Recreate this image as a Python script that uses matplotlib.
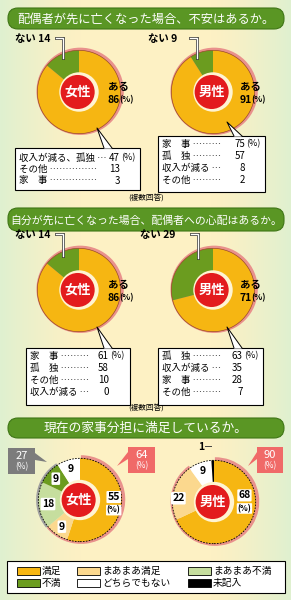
import numpy as np
import matplotlib
matplotlib.use('Agg')
import matplotlib.pyplot as plt
from matplotlib.patches import Wedge, Circle, FancyBboxPatch, Rectangle, Polygon
import matplotlib.patheffects as pe

plt.rcParams['font.family'] = ['Noto Sans CJK JP', 'DejaVu Sans']

# ---- data ----
q1_title = '配偶者が先に亡くなった場合、不安はあるか。'
q2_title = '自分が先に亡くなった場合、配偶者への心配はあるか。'
q3_title = '現在の家事分担に満足しているか。'

yesno_labels = ['ある', 'ない']
q1_female = [86, 14]
q1_male = [91, 9]
q2_female = [86, 14]
q2_male = [71, 29]

q1_female_reasons = ['収入が減る、孤独 …', 'その他 ……………', '家　事 ……………']
q1_female_vals = [47, 13, 3]
q1_male_reasons = ['家　事 ………', '孤　独 ………', '収入が減る …', 'その他 ………']
q1_male_vals = [75, 57, 8, 2]
q2_female_reasons = ['家　事 ………', '孤　独 ………', 'その他 ………', '収入が減る …']
q2_female_vals = [61, 58, 10, 0]
q2_male_reasons = ['孤　独 ………', '収入が減る …', '家　事 ………', 'その他 ………']
q2_male_vals = [63, 35, 28, 7]

q3_categories = ['満足', 'まあまあ満足', 'まあまあ不満', '不満', 'どちらでもない', '未記入']
q3_female = [55, 9, 18, 9, 9, 0]
q3_male = [68, 22, 0, 0, 9, 1]

ORANGE = '#f6b612'
GREEN = '#6b9c1f'
q3_colors = [ORANGE, '#fbd88e', '#c6de9e', GREEN, 'white', 'black']
RED = '#e31b1d'
PINK = '#e9918c'
W, H = 291, 600

fig = plt.figure(figsize=(W / 100, H / 100), dpi=100)


def pixel_axes(z):
    a = fig.add_axes([0, 0, 1, 1], zorder=z)
    a.set_xlim(0, W)
    a.set_ylim(H, 0)
    a.axis('off')
    a.patch.set_alpha(0)
    return a


bg_ax = pixel_axes(0)

# background: cream centre fading to pale green at the sides
yy, xx = np.mgrid[0:H, 0:W]
d = np.abs(xx - 145.5) / 145.5
w = np.clip((d - 0.45) / 0.55, 0, 1) ** 1.3
cream = np.array([253, 241, 196]) / 255
green_bg = np.array([223, 240, 208]) / 255
bg = cream * (1 - w[..., None]) + green_bg * w[..., None]
bg_ax.imshow(bg, extent=(0, W, H, 0), zorder=0, aspect='auto')

ax = pixel_axes(10)  # overlay for texts, boxes and callouts


def banner(y0, y1, text, size):
    bg_ax.add_patch(FancyBboxPatch((8, y0), 276, y1 - y0,
                                   boxstyle='round,pad=0,rounding_size=10',
                                   fc='#5a9624', ec='#3f7616', lw=0.8, zorder=2))
    bg_ax.text(146, (y0 + y1) / 2 + 0.5, text, color='white', fontsize=size,
               ha='center', va='center', zorder=3)


def donut_axes(cx, cy, size=112):
    a = fig.add_axes([(cx - size / 2) / W, 1 - (cy + size / 2) / H, size / W, size / H], zorder=5)
    a.set_xlim(-1.12, 1.12)
    a.set_ylim(-1.12, 1.12)
    a.set_aspect('equal')
    a.axis('off')
    return a


def center_label(a, name, hole=0.44):
    a.add_patch(Circle((0, 0), hole, fc='#fff4d2', ec='none', zorder=5))
    a.add_patch(Circle((-0.03, 0), 0.38, fc=RED, ec='none', zorder=6))
    a.text(-0.03, 0.0, name, color='white', fontsize=9.5, fontweight='bold',
           ha='center', va='center', zorder=7)


def yesno_pie(cx, cy, vals, name):
    a = donut_axes(cx, cy)
    a.add_patch(Circle((0.025, 0.015), 0.975, fc=PINK, ec='none', zorder=0))
    a.pie(vals, colors=[ORANGE, GREEN], startangle=90, counterclock=False,
          radius=0.93, wedgeprops=dict(width=0.55, lw=0))
    a.add_patch(Circle((0, 0), 0.93, fill=False, ec='#9a4a2a', lw=0.5, zorder=4))
    center_label(a, name)
    return a


def no_label(x, y, val, lx, ly):
    ax.text(x, y, f'ない {val}', fontsize=7.5, fontweight='bold', ha='left',
            va='center', zorder=5)
    ax.plot([lx - 7, lx, lx], [y - 1, y - 1, ly], color='white', lw=1,
            zorder=9, solid_joinstyle='miter',
            path_effects=[pe.Stroke(linewidth=2, foreground='#333333'), pe.Normal()])


def yes_label(x, y, val):
    ax.text(x, y, 'ある', fontsize=7.5, fontweight='bold', ha='left', va='center', zorder=5)
    ax.text(x, y + 13, f'{val}', fontsize=7.5, fontweight='bold', ha='left', va='center', zorder=5)
    ax.text(x + 11, y + 13, '(%)', fontsize=6, fontweight='bold', ha='left', va='center', zorder=5)


def reason_box(x0, y0, x1, y1, tip, labels, vals, vx, row0, step=12):
    ax.add_patch(Rectangle((x0, y0), x1 - x0, y1 - y0, fc='white', ec='black', lw=0.8, zorder=4))
    tx, ty = tip
    ax.add_patch(Polygon([(tx + 7, y0 + 0.6), (tx, ty), (tx + 15, y0 + 0.6)], closed=True,
                         fc='white', ec='none', zorder=5))
    ax.plot([tx + 7, tx, tx + 15], [y0, ty, y0], color='black', lw=0.7, zorder=5)
    for i, (lab, v) in enumerate(zip(labels, vals)):
        yy_ = row0 + i * step
        ax.text(x0 + 4, yy_, lab, fontsize=6.8, ha='left', va='center', zorder=6)
        ax.text(vx, yy_, f'{v}', fontsize=7, ha='right', va='center', zorder=6)
        if i == 0:
            ax.text(vx + 1, yy_, '(%)', fontsize=6.5, ha='left', va='center', zorder=6)


# ---- section 1 ----
banner(8, 29, q1_title, 8.8)
yesno_pie(79, 92, q1_female, '女性')
yesno_pie(213, 92, q1_male, '男性')
no_label(15, 39, q1_female[1], 63, 58)
no_label(148, 39, q1_male[1], 197, 58)
yes_label(108, 87, q1_female[0])
yes_label(240, 87, q1_male[0])
reason_box(15, 148, 140, 190, (97, 128), q1_female_reasons, q1_female_vals, 120, 158, 11.5)
reason_box(158, 136, 265, 192, (227, 122), q1_male_reasons, q1_male_vals, 245, 144, 12)
ax.text(146, 199, '(複数回答)', fontsize=5.5, ha='center', va='center')

# ---- section 2 ----
banner(208, 231, q2_title, 7.8)
yesno_pie(79, 290, q2_female, '女性')
yesno_pie(213, 290, q2_male, '男性')
no_label(15, 235, q2_female[1], 63, 256)
no_label(140, 235, q2_male[1], 198, 258)
yes_label(108, 285, q2_female[0])
yes_label(240, 285, q2_male[0])
reason_box(26, 348, 130, 405, (97, 327), q2_female_reasons, q2_female_vals, 109, 356, 12)
reason_box(158, 348, 263, 405, (227, 327), q2_male_reasons, q2_male_vals, 243, 356, 12)
ax.text(146, 409, '(複数回答)', fontsize=5.5, ha='center', va='center')

# ---- section 3 ----
banner(418, 438, q3_title, 9.2)


def q3_pie(cx, cy, vals, name, label_r, label_pos):
    a = donut_axes(cx, cy)
    tot = sum(vals)
    sat = vals[0] + vals[1]
    dis = vals[2] + vals[3]
    # group rings behind the pie
    t_sat = 90 - 360 * sat / tot
    a.add_patch(Wedge((0.02, 0.01), 0.99, t_sat, 90, width=0.12, fc=PINK, ec='none', zorder=0))
    if dis > 0:
        a.add_patch(Wedge((-0.01, 0.0), 0.97, t_sat - 360 * dis / tot, t_sat, width=0.1,
                          fc='#a0a0a0', ec='none', zorder=0))
    keep = [i for i, v in enumerate(vals) if v > 0]
    a.pie([vals[i] for i in keep], colors=[q3_colors[i] for i in keep], startangle=90,
          counterclock=False, radius=0.93, wedgeprops=dict(width=0.5, lw=0))
    a.add_patch(Circle((0, 0), 0.93, fill=False, ec='black', lw=0.6, ls=(0, (2, 1.5)), zorder=4))
    center_label(a, name, hole=0.45)
    # slice value labels
    cum = 0
    for i, v in enumerate(vals):
        if v == 0:
            continue
        mid = 90 - 360 * (cum + v / 2) / tot
        cum += v
        ang, r = label_pos.get(i, (mid, label_r))
        if ang is None:
            continue
        x, y = r * np.cos(np.radians(ang)), r * np.sin(np.radians(ang))
        if i == 0:
            a.text(x, y + 0.06, f'{v}', fontsize=7.5, fontweight='bold', ha='center', va='bottom',
                   zorder=8, bbox=dict(boxstyle='round,pad=0.1', fc='white', ec='none'))
            a.text(x, y - 0.02, '(%)', fontsize=5.8, fontweight='bold', ha='center', va='top',
                   zorder=8, bbox=dict(boxstyle='round,pad=0.1', fc='white', ec='none'))
        else:
            a.text(x, y, f'{v}', fontsize=7.5, fontweight='bold', ha='center', va='center',
                   zorder=8, bbox=dict(boxstyle='round,pad=0.12', fc='white', ec='none'))
    return a


q3_pie(80, 500, q3_female, '女性', 0.72, {0: (-8, 0.76)})
q3_pie(214, 502, q3_male, '男性', 0.74, {0: (-2, 0.68), 1: (174, 0.8), 5: (None, 0)})

# unanswered 1 label for men
ax.text(201, 447, f'{q3_male[5]}', fontsize=7.5, fontweight='bold', ha='center', va='center')
ax.plot([205, 211], [446, 446], color='#444444', lw=0.7)


def callout(x0, y0, x1, y1, val, color, tip, side):
    ax.add_patch(Rectangle((x0, y0), x1 - x0, y1 - y0, fc=color, ec='none', zorder=6))
    ex = x1 if side == 'right' else x0
    ax.add_patch(Polygon([(ex, y0 + 5), tip, (ex, y0 + 12)], closed=True, fc=color,
                         ec='none', zorder=6))
    cx = (x0 + x1) / 2
    ax.text(cx, y0 + 8, f'{val}', color='white', fontsize=8, ha='center', va='center', zorder=7)
    ax.text(cx, y0 + 19, '(%)', color='white', fontsize=6, ha='center', va='center', zorder=7)


callout(8, 448, 35, 474, q3_female[2] + q3_female[3], '#7c7c7c', (47, 462), 'right')
callout(128, 447, 155, 473, q3_female[0] + q3_female[1], '#f06a68', (117, 466), 'left')
callout(257, 447, 283, 473, q3_male[0] + q3_male[1], '#f06a68', (248, 466), 'left')

# ---- legend ----
ax.add_patch(Rectangle((7, 561), 278, 32, fc='white', ec='black', lw=0.8, zorder=4))
leg_x = [17, 77, 188]
leg_y = [571, 583]
for i, (cat, col) in enumerate(zip(q3_categories, q3_colors)):
    row, colm = divmod(i, 3)
    x, y = leg_x[colm], leg_y[row]
    ax.add_patch(Rectangle((x, y - 4), 23, 8, fc=col, ec='black', lw=0.6, zorder=5))
    ax.text(x + 25, y, cat, fontsize=7, ha='left', va='center', zorder=5)

fig.savefig('out.png', dpi=100)
